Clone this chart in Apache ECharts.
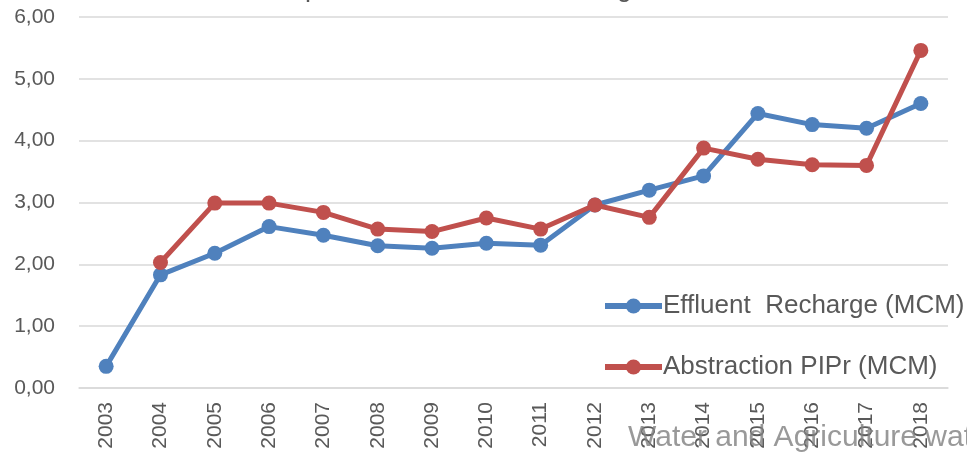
<!DOCTYPE html>
<html>
<head>
<meta charset="utf-8">
<script src="https://cdn.jsdelivr.net/npm/echarts@6/dist/echarts.min.js"></script>
<style>
  html, body { margin: 0; padding: 0; background: #fff; }
  #chart { width: 967px; height: 454px; }
</style>
</head>
<body>
<div id="chart"></div>
<script>
// Years on the category axis
const years = ['2003','2004','2005','2006','2007','2008','2009','2010',
               '2011','2012','2013','2014','2015','2016','2017','2018'];

// Effluent recharge, million cubic metres
const effluentRecharge = [0.35, 1.83, 2.18, 2.61, 2.47, 2.30, 2.26, 2.34,
                          2.31, 2.96, 3.20, 3.43, 4.44, 4.26, 4.20, 4.60];

// Abstraction by PIPr, million cubic metres (no record for 2003)
const abstractionPIPr = [null, 2.03, 2.99, 2.99, 2.84, 2.57, 2.53, 2.75,
                         2.57, 2.96, 2.76, 3.88, 3.70, 3.61, 3.60, 5.46];

// Y-axis range and step
const yMin = 0, yMax = 6, yStep = 1;

const textColor = '#595959';
const gridColor = '#d9d9d9';
const fontFamily = 'Liberation Sans, Arial, sans-serif';

const chart = echarts.init(document.getElementById('chart'), null, { renderer: 'canvas' });

chart.setOption({
  animation: false,
  backgroundColor: '#ffffff',
  textStyle: { fontFamily: fontFamily },
  grid: { left: 79, right: 19, top: 17, bottom: 66, containLabel: false },
  xAxis: {
    type: 'category',
    data: years,
    boundaryGap: true,
    axisLine: { show: true, lineStyle: { color: gridColor, width: 1.5 } },
    axisTick: { show: false },
    axisLabel: { rotate: 90, color: textColor, fontSize: 21, margin: 14, fontFamily: fontFamily }
  },
  yAxis: {
    type: 'value',
    min: yMin, max: yMax, interval: yStep,
    axisLine: { show: false },
    axisTick: { show: false },
    splitLine: { show: true, lineStyle: { color: gridColor, width: 1.5 } },
    axisLabel: {
      color: textColor, fontSize: 21, margin: 24, fontFamily: fontFamily,
      formatter: v => v.toFixed(2).replace('.', ',')
    }
  },
  legend: {
    orient: 'vertical',
    left: 597, top: 288,
    itemGap: 35,
    itemWidth: 57, itemHeight: 19,
    lineStyle: { width: 6 },
    textStyle: { color: textColor, fontSize: 26, fontFamily: fontFamily, padding: [0, 0, 0, -4] },
    data: ['Effluent  Recharge (MCM)', 'Abstraction PIPr (MCM)']
  },
  series: [
    {
      name: 'Effluent  Recharge (MCM)',
      type: 'line',
      data: effluentRecharge,
      color: '#4f81bd',
      lineStyle: { width: 5, color: '#4f81bd' },
      symbol: 'circle', symbolSize: 15,
      itemStyle: { color: '#4f81bd' },
      z: 2
    },
    {
      name: 'Abstraction PIPr (MCM)',
      type: 'line',
      data: abstractionPIPr,
      color: '#c0504d',
      lineStyle: { width: 5, color: '#c0504d' },
      symbol: 'circle', symbolSize: 15,
      itemStyle: { color: '#c0504d' },
      z: 3
    }
  ],
  graphic: [
    {
      type: 'text',
      left: 248, top: -25,
      style: { text: 'Comparison of Effluent Recharge', fill: textColor, font: '27px ' + fontFamily }
    },
    {
      type: 'text',
      left: 628, top: 423,
      z: 100,
      style: { text: 'Water and Agriculture water', fill: 'rgba(128,128,128,0.8)', font: '30px ' + fontFamily }
    }
  ]
});
</script>
</body>
</html>
